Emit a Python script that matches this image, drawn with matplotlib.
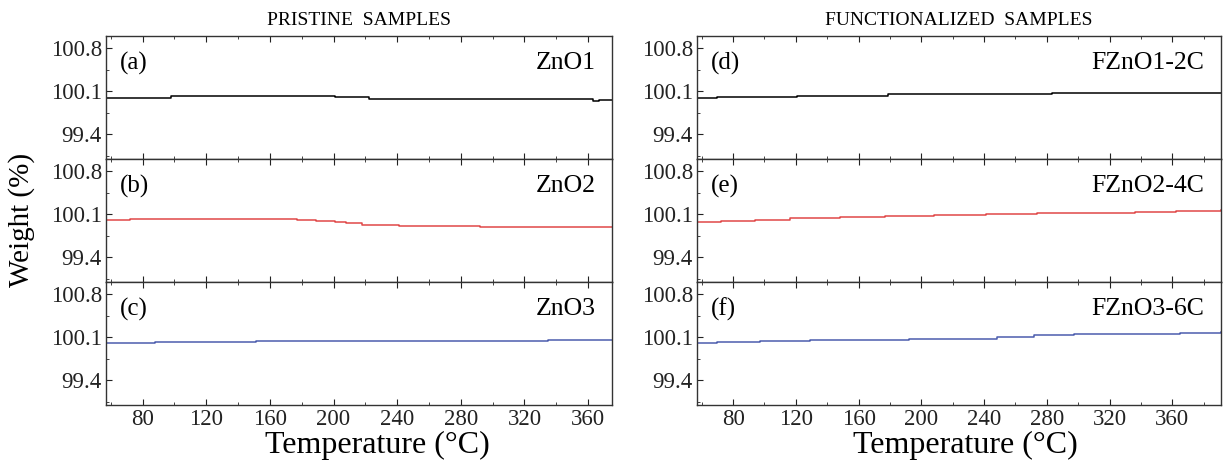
import numpy as np
import matplotlib.pyplot as plt
from matplotlib.ticker import MultipleLocator

plt.rcParams['font.family'] = ['Liberation Serif', 'DejaVu Serif']

# pristine samples
a_t = [57, 98, 201, 222, 363, 367, 375]
a_w = [100.00, 100.02, 100.01, 99.97, 99.95, 99.965, 99.965]
b_t = [57, 72, 177, 189, 201, 208, 218, 241, 292, 375]
b_w = [100.01, 100.02, 100.015, 99.99, 99.975, 99.955, 99.93, 99.91, 99.89, 99.89]
c_t = [57, 88, 151, 335, 375]
c_w = [100.01, 100.03, 100.04, 100.06, 100.06]

# functionalized samples
d_t = [57, 70, 121, 179, 283, 391]
d_w = [100.00, 100.015, 100.03, 100.05, 100.07, 100.07]
e_t = [57, 72, 94, 116, 148, 177, 208, 241, 274, 304, 336, 362, 391]
e_w = [99.98, 99.995, 100.015, 100.035, 100.055, 100.07, 100.09, 100.105,
       100.12, 100.13, 100.145, 100.155, 100.165]
f_t = [57, 70, 97, 129, 167, 192, 248, 272, 297, 365, 391]
f_w = [100.01, 100.025, 100.04, 100.05, 100.065, 100.08, 100.10, 100.14,
       100.16, 100.175, 100.18]

left_series = [(a_t, a_w, 'black', '(a)', 'ZnO1'),
               (b_t, b_w, '#e04848', '(b)', 'ZnO2'),
               (c_t, c_w, '#4b5cae', '(c)', 'ZnO3')]
right_series = [(d_t, d_w, 'black', '(d)', 'FZnO1-2C'),
                (e_t, e_w, '#e04848', '(e)', 'FZnO2-4C'),
                (f_t, f_w, '#4b5cae', '(f)', 'FZnO3-6C')]

yticks = [99.4, 100.1, 100.8]
xticks = [80, 120, 160, 200, 240, 280, 320, 360]

fig = plt.figure(figsize=(12.23, 4.68), dpi=100)

bottom = 1 - 405 / 468
top = 1 - 36 / 468
h = (top - bottom) / 3


def make_column(x0, w, series, xmax, title, xlab_x):
    axes = []
    for i, (t, wgt, col, tag, name) in enumerate(series):
        ax = fig.add_axes([x0, top - (i + 1) * h, w, h])
        ax.plot(t, wgt, color=col, lw=1.1, drawstyle='steps-post')
        ax.set_xlim(57, xmax)
        ax.set_ylim(99.0, 101.0)
        ax.set_yticks(yticks)
        ax.set_yticklabels([str(v) for v in yticks])
        ax.yaxis.set_minor_locator(MultipleLocator(0.35))
        ax.set_xticks(xticks)
        ax.xaxis.set_minor_locator(MultipleLocator(20))
        ax.tick_params(which='both', direction='in', top=True, right=False,
                       labelsize=16.5, colors='#222222')
        ax.tick_params(which='major', length=4, pad=3)
        ax.tick_params(which='minor', length=2)
        if i < 2:
            ax.tick_params(labelbottom=False)
        for s in ax.spines.values():
            s.set_color('#333333')
            s.set_linewidth(1.0)
        ax.text(0.027, 0.78, tag, transform=ax.transAxes, fontsize=18, va='center')
        ax.text(0.968, 0.78, name, transform=ax.transAxes, fontsize=18.5,
                ha='right', va='center')
        axes.append(ax)
    axes[0].set_title(title, fontsize=14, pad=8)
    fig.text(xlab_x, 1 - 445 / 468, 'Temperature (°C)', fontsize=23,
             ha='center', va='center')
    return axes


left_axes = make_column(106 / 1223, 506 / 1223, left_series, 375,
                        'PRISTINE  SAMPLES', 377 / 1223)
right_axes = make_column(697 / 1223, 524 / 1223, right_series, 391,
                         'FUNCTIONALIZED  SAMPLES', 965 / 1223)

fig.text(22 / 1223, 0.53, 'Weight (%)', rotation=90, fontsize=21,
         ha='center', va='center')

fig.savefig('out.png', dpi=100)
